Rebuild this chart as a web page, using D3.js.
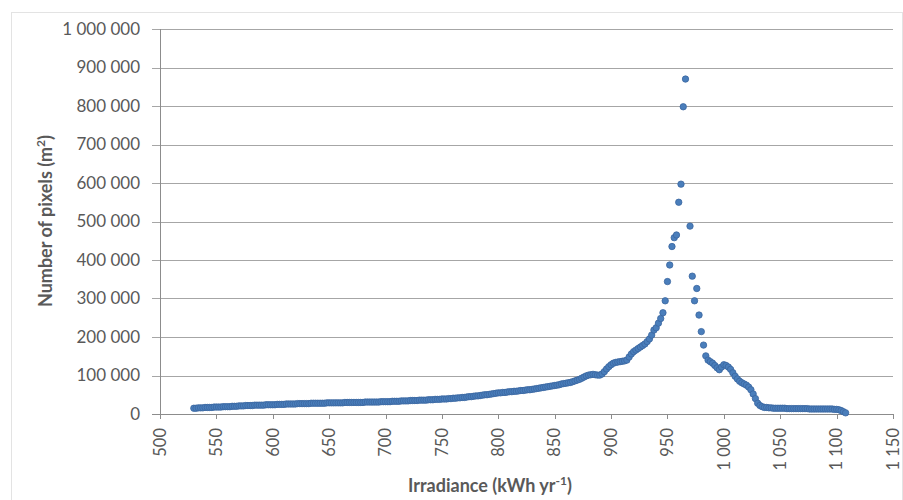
<!DOCTYPE html>
<html>
<head>
<meta charset="utf-8">
<style>
 body {margin: 0; background: #fff;}
 svg {display: block;}
 text {font-family: Lato, "Open Sans", sans-serif; fill: #595959;}
</style>
<title>Irradiance histogram</title>
</head>
<body>
<div id="contenedor"></div>
<script src="https://cdn.jsdelivr.net/npm/d3@7"></script>
<script>
// bins of 2 kWh yr-1, from 530 to 1108
var irradiance = d3.range(530, 1109, 2);
// number of pixels, in thousands (null = no point seen)
var pixelsK = [
 15,15,16,16,16,17,17,17,17,18,18,18,18,19,19,19,
 19,20,20,20,21,21,21,22,22,22,22,23,23,23,23,23,24,24,24,24,
 24,25,25,25,25,26,26,26,26,26,27,27,27,27,27,27,28,28,28,28,28,28,28,29,29,
 29,29,29,29,29,29,30,30,30,30,30,30,30,30,30,31,31,31,31,31,31,31,32,32,32,
 32,32,33,33,33,33,34,34,34,34,35,35,35,35,36,36,36,36,37,37,37,38,38,38,39,
 39,39,40,40,41,41,42,42,43,43,44,45,45,46,47,47,48,49,50,50,51,52,53,54,55,
 55,56,56,57,58,58,59,59,60,61,61,62,63,63,64,65,66,67,68,69,70,71,72,73,74,
 75,76,78,79,80,81,82,84,86,88,90,93,96,99,101,102,103,102,101,101,104,110,117,123,128,
 132,134,135,136,137,138,140,148,156,162,166,170,174,178,182,188,195,205,218,224,236,248,263,294,344,
 387,435,458,465,550,597,798,870,null,488,358,294,326,257,214,179,151,140,136,132,126,120,115,122,128,
 126,122,116,107,98,91,85,81,78,75,70,63,52,40,28,22,19,17,17,16,16,15,15,15,15,
 15,15,14,14,14,14,14,14,14,14,14,14,13,13,13,13,13,13,13,13,13,13,13,12,12,11,9,6,3
];
var xTicks = d3.range(500, 1151, 50);
var yTicks = d3.range(0, 1000001, 100000);

var width = 903, height = 500;
var mLeft = 160, mRight = 893, mTop = 29, mBottom = 414;

var fmt = function(v) { return d3.format(",")(v).replace(/,/g, " "); };

var svg = d3.select("#contenedor").append("svg")
            .attr("width", width).attr("height", height);

svg.append("rect").attr("x", 11.5).attr("y", 12.5)
   .attr("width", width - 12).attr("height", height - 12)
   .attr("fill", "none").attr("stroke", "#e3e3e3");

var x = d3.scaleLinear().domain([500, 1150]).range([mLeft, mRight]);
var y = d3.scaleLinear().domain([0, 1000000]).range([mBottom, mTop]);

// gridlines + y ticks
svg.append("g").selectAll("line").data(yTicks).enter().append("line")
   .attr("x1", mLeft - 8).attr("x2", mRight)
   .attr("y1", d => Math.round(y(d)) + 0.5).attr("y2", d => Math.round(y(d)) + 0.5)
   .attr("stroke", d => d === 0 ? "#8c8c8c" : "#a6a6a6");

svg.append("line").attr("x1", mLeft + 0.5).attr("x2", mLeft + 0.5)
   .attr("y1", mTop).attr("y2", mBottom + 5).attr("stroke", "#8c8c8c");

svg.append("g").selectAll("text").data(yTicks).enter().append("text")
   .attr("x", 140).attr("y", d => y(d)).attr("dy", "0.35em")
   .attr("text-anchor", "end").style("font-size", "17px")
   .text(fmt);

// x ticks
svg.append("g").selectAll("line").data(xTicks).enter().append("line")
   .attr("x1", d => Math.round(x(d)) + 0.5).attr("x2", d => Math.round(x(d)) + 0.5)
   .attr("y1", mBottom).attr("y2", mBottom + 5).attr("stroke", "#8c8c8c");

svg.append("g").selectAll("text").data(xTicks).enter().append("text")
   .attr("transform", d => "translate(" + x(d) + "," + 428 + ") rotate(-90)")
   .attr("dy", "0.35em").attr("text-anchor", "end").style("font-size", "16.5px")
   .text(fmt);

// points
var datos = irradiance.map((v, i) => ({ x: v, n: pixelsK[i] }))
                      .filter(d => d.n !== null);

svg.append("g").selectAll("circle").data(datos).enter().append("circle")
   .attr("cx", d => x(d.x)).attr("cy", d => y(d.n * 1000))
   .attr("r", 3.2).attr("fill", "#4a7ebb").attr("stroke", "#3a66a0").attr("stroke-width", 0.8);

// axis titles
var xt = svg.append("text").attr("x", 490).attr("y", 492).attr("text-anchor", "middle")
   .style("font-size", "18px").style("font-weight", "bold");
xt.append("tspan").text("Irradiance (kWh yr");
xt.append("tspan").attr("dy", -7).style("font-size", "12px").text("-1");
xt.append("tspan").attr("dy", 7).text(")");

var yt = svg.append("text").attr("transform", "translate(52,221) rotate(-90)")
   .attr("text-anchor", "middle").style("font-size", "18px").style("font-weight", "bold");
yt.append("tspan").text("Number of pixels (m");
yt.append("tspan").attr("dy", -7).style("font-size", "12px").text("2");
yt.append("tspan").attr("dy", 7).text(")");
</script>
</body>
</html>
